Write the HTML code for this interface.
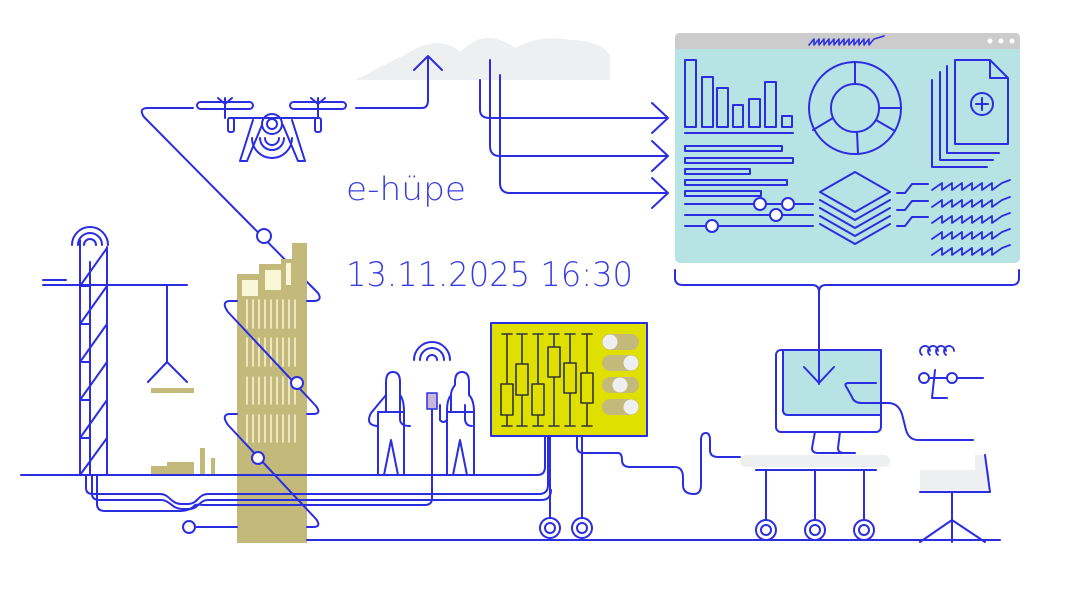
<!DOCTYPE html>
<html><head><meta charset="utf-8"><style>
html,body{margin:0;padding:0;background:#fff;width:1070px;height:601px;overflow:hidden}
svg{display:block}
text{font-family:"DejaVu Sans ExtraLight","DejaVu Sans Light","Liberation Sans",sans-serif;fill:#3a3ee0;font-weight:200}
</style></head><body>
<svg width="1070" height="601" viewBox="0 0 1070 601" xmlns="http://www.w3.org/2000/svg">
<g fill="none" stroke="#2a2ee0" stroke-width="2" stroke-linecap="round" stroke-linejoin="round">

<!-- cloud -->
<path d="M355,80 L410,52 Q440,34 460,52 L470,44 Q490,30 515,48 Q540,34 570,40 Q600,40 610,55 L610,80 Z" fill="#eeeff1" stroke="none"/>

<!-- drone path -->
<path d="M193,108 H148 Q138,108 144,117 L318,293 Q323,301 313,301"/>
<path d="M356,108 H422 Q428,108 428,100 V56 M414,70 L428,56 L442,70"/>
<circle cx="264" cy="236" r="7" fill="#fff"/>

<!-- drone -->
<rect x="197" y="102" width="56" height="7" rx="3.5"/>
<rect x="290" y="102" width="56" height="7" rx="3.5"/>
<path d="M225,98 L225,118 M318,98 L318,118 M218,98 l7,6 l7,-6 M311,98 l7,6 l7,-6"/>
<path d="M229,118 H318"/>
<rect x="228" y="118" width="6" height="14" rx="2"/>
<rect x="315" y="118" width="6" height="14" rx="2"/>
<path d="M253,120 L240,161 H247 L262,125 M292,120 L305,161 H298 L283,125"/>
<circle cx="272" cy="124" r="10"/><circle cx="272" cy="124" r="5"/>
<path d="M260,138 A12,12 0 0 0 284,138 M265,138 A7,7 0 0 0 279,138 M252,138 A20,20 0 0 0 292,138"/>

<!-- three arrows -->
<path d="M480,80 V110 Q480,118 490,118 H668 M652,103 L668,118 L652,133"/>
<path d="M490,60 V146 Q490,156 500,156 H668 M652,141 L668,156 L652,171"/>
<path d="M500,75 V183 Q500,193 510,193 H668 M652,178 L668,193 L652,208"/>

<!-- dashboard -->
<rect x="675" y="33" width="345" height="230" rx="5" fill="#b7e3e5" stroke="none"/>
<path d="M680,33 H1015 Q1020,33 1020,38 V49 H675 V38 Q675,33 680,33 Z" fill="#cccccd" stroke="none"/>
<circle cx="990" cy="41" r="2.5" fill="#fff" stroke="none"/><circle cx="1001" cy="41" r="2.5" fill="#fff" stroke="none"/><circle cx="1012" cy="41" r="2.5" fill="#fff" stroke="none"/>
<path d="M809,45 l5,-6 v6 l5,-6 v6 l5,-6 v6 l5,-6 v6 l5,-6 v6 l5,-6 v6 l5,-6 v6 l5,-6 v6 l5,-6 v6 l5,-6 v6 l5,-6 v6 l5,-6 v6 l5,-6 l10,-3" stroke-width="1.6"/>
<g fill="none">
<rect x="685" y="60" width="11" height="67"/><rect x="702" y="77" width="11" height="50"/><rect x="717" y="88" width="11" height="39"/><rect x="733" y="105" width="10" height="22"/><rect x="749" y="99" width="11" height="28"/><rect x="765" y="82" width="11" height="45"/><rect x="782" y="116" width="10" height="11"/>
</g>
<path d="M685,133 H793"/>
<circle cx="855" cy="108" r="46"/><circle cx="855" cy="108" r="24"/>
<path d="M855,62 V84 M879,108 H901 M876,120 L895,131 M857,132 L858,154 M833,118 L813,130"/>
<!-- docs -->
<path d="M932,80 V167 H987 M940,72 V160 H993 M947,66 V153 H999 M955,60 H990 L1008,78 V144 H955 Z M990,60 V78 H1008"/>
<circle cx="982" cy="104" r="11"/><path d="M976,104 H988 M982,98 V110"/>
<!-- hbars -->
<rect x="685" y="146" width="97" height="5"/><rect x="685" y="158" width="108" height="5"/><rect x="685" y="169" width="65" height="5"/><rect x="685" y="180" width="102" height="5"/><rect x="685" y="191" width="76" height="5"/>
<!-- sliders -->
<path d="M685,204 H813 M685,215 H813 M685,226 H813"/>
<circle cx="760" cy="204" r="6" fill="#fff"/><circle cx="788" cy="204" r="6" fill="#fff"/><circle cx="776" cy="215" r="6" fill="#fff"/><circle cx="712" cy="226" r="6" fill="#fff"/>
<!-- layers -->
<path d="M820,224 L855,244 L890,224 M820,216 L855,236 L890,216 M820,208 L855,228 L890,208 M820,200 L855,220 L890,200"/>
<path d="M820,192 L855,172 L890,192 L855,212 Z" fill="#b7e3e5"/>
<path d="M897,193 H905 L912,184 H928 M897,210 H905 L912,201 H928 M897,226 H905 L912,217 H928"/>
<g stroke-width="1.8">
<path d="M932,190 l10,-7 v7 l10,-7 v7 l10,-7 v7 l10,-7 v7 l10,-7 v7 l10,-7 v7 l10,-7 l8,-3"/>
<path d="M932,207 l10,-7 v7 l10,-7 v7 l10,-7 v7 l10,-7 v7 l10,-7 v7 l10,-7 v7 l10,-7 l8,-3"/>
<path d="M932,223 l10,-7 v7 l10,-7 v7 l10,-7 v7 l10,-7 v7 l10,-7 v7 l10,-7 v7 l10,-7 l8,-3"/>
<path d="M932,239 l10,-7 v7 l10,-7 v7 l10,-7 v7 l10,-7 v7 l10,-7 v7 l10,-7 v7 l10,-7 l8,-3"/>
<path d="M932,255 l10,-7 v7 l10,-7 v7 l10,-7 v7 l10,-7 v7 l10,-7 v7 l10,-7 v7 l10,-7 l8,-3"/>
</g>
<!-- bracket -->
<path d="M675,270 V278 Q675,285 683,285 H812 Q819,285 819,292 Q819,285 826,285 H1012 Q1019,285 1019,278 V270"/>
<path d="M819,292 V383"/>

<!-- monitor -->
<rect x="776" y="350" width="105" height="82" rx="5"/>
<path d="M783,350 H881 V415 H788 Q783,415 783,410 Z" fill="#b7e3e5"/>
<path d="M819,340 V384 M804,367 L819,383 L834,367"/>
<path d="M876,383 H849 Q843,383 847,388 L852,397 Q854,403 862,403 H888 Q900,403 903,418 L906,430 Q909,440 918,440 H973"/>
<path d="M815,432 L812,448 Q812,453 818,453 H855 M840,432 L838,448 Q838,453 844,453"/>
<rect x="740" y="455" width="150" height="12" rx="6" fill="#eeeff1" stroke="none"/>
<path d="M756,470 H876 M766,470 V522 M815,470 V522 M864,470 V522"/>
<circle cx="766" cy="530" r="10" fill="#fff"/><circle cx="766" cy="530" r="5"/>
<circle cx="815" cy="530" r="10" fill="#fff"/><circle cx="815" cy="530" r="5"/>
<circle cx="864" cy="530" r="10" fill="#fff"/><circle cx="864" cy="530" r="5"/>
<!-- chair -->
<path d="M920,470 H988 L985,455 H975 V470" fill="#eeeff1" stroke="none"/>
<rect x="920" y="470" width="70" height="22" fill="#eeeff1" stroke="none"/>
<path d="M985,455 L990,492 H920 M952,492 V542 M952,520 L920,542 M952,520 L985,542"/>
<!-- coil / switch -->
<path d="M922,355 a5,5 0 1 1 8,-4 M930,355 a5,5 0 1 1 8,-4 M938,355 a5,5 0 1 1 8,-4 M946,355 a5,5 0 1 1 8,-4" stroke-width="1.8"/>
<circle cx="924" cy="378" r="5"/><circle cx="952" cy="378" r="5"/>
<path d="M929,378 H947 M935,370 L932,398 H947 M957,378 H983"/>

<!-- yellow board -->
<rect x="491" y="323" width="156" height="113" fill="#dfe000" stroke="#2a2ee0"/>
<g stroke="#333" stroke-width="1.6">
<path d="M507,334 V426 M502,334 h10 M502,426 h10"/><rect x="501" y="384" width="12" height="31" fill="#dfe000"/>
<path d="M522,334 V426 M517,334 h10 M517,426 h10"/><rect x="516" y="364" width="12" height="31" fill="#dfe000"/>
<path d="M538,334 V426 M533,334 h10 M533,426 h10"/><rect x="532" y="384" width="12" height="31" fill="#dfe000"/>
<path d="M554,334 V426 M549,334 h10 M549,426 h10"/><rect x="548" y="347" width="12" height="30" fill="#dfe000"/>
<path d="M570,334 V426 M565,334 h10 M565,426 h10"/><rect x="564" y="363" width="12" height="30" fill="#dfe000"/>
<path d="M587,334 V426 M582,334 h10 M582,426 h10"/><rect x="581" y="373" width="12" height="30" fill="#dfe000"/>
</g>
<g stroke="none">
<rect x="602" y="334" width="37" height="16" rx="8" fill="#c2b97a"/><circle cx="610" cy="342" r="7.5" fill="#eeeff1"/>
<rect x="602" y="355" width="37" height="16" rx="8" fill="#c2b97a"/><circle cx="631" cy="363" r="7.5" fill="#eeeff1"/>
<rect x="602" y="377" width="37" height="16" rx="8" fill="#c2b97a"/><circle cx="620" cy="385" r="7.5" fill="#eeeff1"/>
<rect x="602" y="399" width="37" height="16" rx="8" fill="#c2b97a"/><circle cx="631" cy="407" r="7.5" fill="#eeeff1"/>
</g>
<path d="M550,436 V520 M582,436 V520"/>
<circle cx="550" cy="528" r="10" fill="#fff"/><circle cx="550" cy="528" r="5"/>
<circle cx="582" cy="528" r="10" fill="#fff"/><circle cx="582" cy="528" r="5"/>
<path d="M577,436 V447 Q577,453 584,453 H618 Q622,453 622,460 Q622,467 630,467 H675 Q683,467 683,478 V485 Q683,494 694,494 Q701,494 701,485 V440 Q701,433 706,433 Q710,433 710,440 V450 Q710,457 718,457 H740"/>

<!-- building (tan) -->
<path d="M237,274 H259 V264 H281 V259 H292 V243 H307 V543 H237 Z" fill="#c2b97a" stroke="none"/>
<g fill="#fbf6d8" stroke="none">
<rect x="242" y="280" width="16" height="16"/><rect x="265" y="270" width="16" height="20"/><rect x="286" y="263" width="5" height="22"/>
</g>
<g stroke="#fbf6d8" stroke-width="1.5">
<path d="M247,300V328M253,300V328M259,300V328M265,300V328M271,300V328M277,300V328M283,300V328M289,300V328M295,300V328"/>
<path d="M247,338V366M253,338V366M259,338V366M265,338V366M271,338V366M277,338V366M283,338V366M289,338V366M295,338V366"/>
<path d="M247,377V404M253,377V404M259,377V404M265,377V404M271,377V404M277,377V404M283,377V404M289,377V404M295,377V404"/>
<path d="M247,415V442M253,415V442M259,415V442M265,415V442M271,415V442M277,415V442M283,415V442M289,415V442M295,415V442"/>
</g>
<!-- zigzag over building -->
<path d="M307,301 H313 M237,301 H229 Q221,302 228,312 L316,406 Q322,414 313,414 H307 M237,414 H229 Q221,415 228,425 L316,519 Q322,527 313,527 H307 M237,527 H195"/>
<circle cx="297" cy="383" r="6" fill="#fff"/><circle cx="258" cy="458" r="6" fill="#fff"/>
<circle cx="189" cy="527" r="6" fill="#fff"/>

<!-- scaffold -->
<path d="M80,475 V240 M90,475 V262 M107,475 V247 M43,280 H66 M43,285 H187"/>
<path d="M80,286 L107,248 M80,324 L107,286 M80,362 L107,324 M80,400 L107,362 M80,438 L107,400 M80,475 L107,438 M80,286 H90 M80,324 H90 M80,362 H90 M80,400 H90 M80,438 H90"/>
<path d="M72,245 A18,18 0 0 1 108,245 M78,245 A12,12 0 0 1 102,245 M84,245 A6,6 0 0 1 96,245"/>
<path d="M167,285 V362 M148,382 L167,362 L187,382"/>
<rect x="151" y="388" width="43" height="5" fill="#c2b97a" stroke="none"/>
<g fill="#c2b97a" stroke="none"><rect x="151" y="466" width="16" height="9"/><rect x="167" y="462" width="27" height="13"/><rect x="200" y="448" width="5" height="27"/><rect x="211" y="458" width="4" height="17"/></g>

<!-- ground & cables -->
<path d="M21,475 H537 Q545,475 545,467 V436"/>
<path d="M86,475 V488 Q86,494 93,494 H160 C170,494 170,504 182,504 H188 C198,504 198,494 208,494 H539 Q548,494 548,485 V436"/>
<path d="M92,475 V494 Q92,500 100,500 H161 C170,500 172,509 182,509 H189 C199,509 199,500 208,500 H541 Q551,500 551,490"/>
<path d="M97,475 V504 Q97,511 105,511 H180 Q190,511 195,505 C199,504 200,505 205,505 H425 Q432,505 432,498 V410"/>
<path d="M307,540 H1000"/>

<!-- people -->
<rect x="427" y="393" width="10" height="16" fill="#c9b7d8" stroke="#2a2ee0" stroke-width="1.5"/>
<path d="M420,360 A12,12 0 0 1 444,360 M414,360 A18,18 0 0 1 450,360 M427,360 A5,5 0 0 1 437,360"/>
<path d="M378,475 V412 H404 V475 M384,475 L391,440 L398,475 M386,412 V395 L371,413 Q365,425 377,426 M386,395 V382 Q386,372 393,372 Q400,372 400,382 V395 Q404,400 404,412 M400,395 V420 Q401,426 410,426"/>
<path d="M447,475 V412 H474 V475 M453,475 L460,440 L467,475 M451,412 V395 Q451,390 455,385 V382 Q455,372 462,372 Q469,372 469,382 V395 Q474,400 474,412 M465,405 V420 Q466,426 472,426 M451,395 Q447,400 447,410 L447,420 Q443,424 440,420 V405"/>
</g>

<text x="346" y="200" font-size="32" textLength="120" lengthAdjust="spacingAndGlyphs">e-hüpe</text>
<text x="346" y="286" font-size="34" textLength="287" lengthAdjust="spacingAndGlyphs">13.11.2025 16:30</text>
</svg>
</body></html>
